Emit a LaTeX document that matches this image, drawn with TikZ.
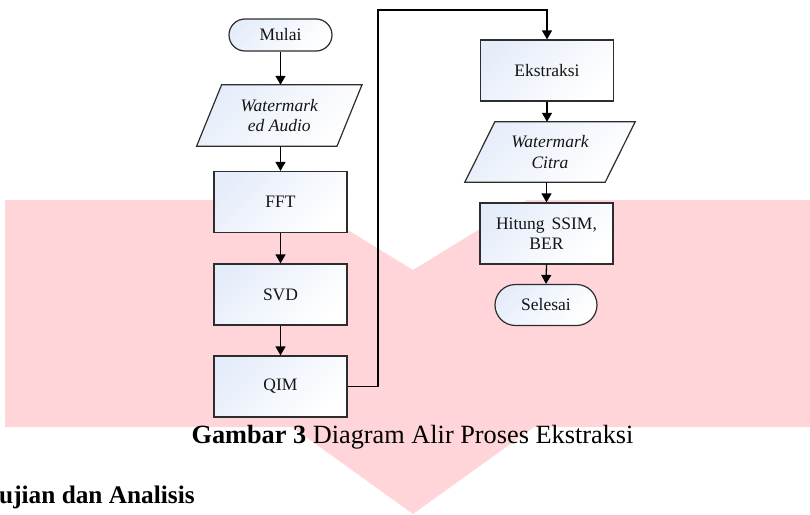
\documentclass[tikz,border=0pt]{standalone}
\usepackage{fontspec}
\setmainfont{Liberation Serif}
\usetikzlibrary{arrows.meta,backgrounds}
\definecolor{wmpink}{RGB}{255,213,217}
\definecolor{boxtl}{RGB}{230,237,250}
\definecolor{edgegray}{RGB}{45,45,45}
\definecolor{txt}{RGB}{20,20,20}
\begin{document}
\begin{tikzpicture}[x=1pt,y=-1pt,
  every node/.style={font=\fontsize{17.5}{20.5}\selectfont, align=center, inner sep=0pt, text=txt},
  procbox/.style={draw=edgegray, line width=1.2pt, top color=boxtl, bottom color=white, shading angle=45, minimum width=133pt, minimum height=61pt},
  termbox/.style={draw=edgegray, line width=1.2pt, top color=boxtl, bottom color=white, shading angle=45},
  iolabel/.style={minimum width=140pt, minimum height=61pt, font=\fontsize{17.5}{20.5}\selectfont\itshape},
  iobox/.style={draw=edgegray, line width=1.2pt, top color=boxtl, bottom color=white, shading angle=45},
  flow/.style={draw=black, line width=1.3pt, -{Triangle[width=10pt,length=9pt]}},
]
\useasboundingbox (0,0) rectangle (810,514);

% watermark shape
\fill[wmpink] (5,200) -- (299,200) -- (413,270) -- (527,200) -- (810,200) -- (810,427)
  -- (534,427) -- (413,514) -- (292,427) -- (5,427) -- cycle;

% left column
\node[termbox, minimum width=103pt, minimum height=32pt, rounded corners=16pt] (mulai) at (280.5,35) {Mulai};
\node[iolabel] (wa) at (279.3,115.5) {Watermark\\ed Audio};
\node[procbox] (fft) at (280.5,202) {FFT};
\node[procbox] (svd) at (280.5,294.5) {SVD};
\node[procbox] (qim) at (280.5,386.5) {QIM};

% right column
\node[procbox] (ek) at (547,70.5) {Ekstraksi};
\node[iolabel, minimum height=60pt] (wc) at (550,152) {Watermark\\Citra};
\node[procbox] (hit) at (546.5,233.5) {Hitung\hspace{7pt}SSIM,\\BER};
\node[termbox, minimum width=102pt, minimum height=41pt, rounded corners=20.5pt] (sel) at (546,305) {Selesai};

\begin{scope}[on background layer]
\path[iobox] ([xshift=12.5pt]wa.north west) -- ([xshift=12.5pt]wa.north east)
  -- ([xshift=-12.5pt]wa.south east) -- ([xshift=-12.5pt]wa.south west) -- cycle;
\path[iobox] ([xshift=15pt]wc.north west) -- ([xshift=15pt]wc.north east)
  -- ([xshift=-15pt]wc.south east) -- ([xshift=-15pt]wc.south west) -- cycle;
\end{scope}

% connectors
\draw[flow] (mulai.south) -- (mulai.south |- wa.north);
\draw[flow] (fft.north |- wa.south) -- (fft.north);
\draw[flow] (fft) -- (svd);
\draw[flow] (svd) -- (qim);
\coordinate (turn) at (378,10);
\draw[flow] (qim.east) -| (turn) -| (ek.north);
\draw[flow] (ek.south) -- (ek.south |- wc.north);
\draw[flow] (hit.north |- wc.south) -- (hit.north);
\draw[flow] (hit.south) -- (sel.north);

% caption and heading
\node[anchor=base, font=\fontsize{26.3}{30}\selectfont, text=black] (cap) at (412.5,443)
  {\textbf{Gambar 3} Diagram Alir Proses Ekstraksi};
\node[anchor=base west, font=\fontsize{25.3}{30}\selectfont\bfseries, text=black] (head) at (-1,503)
  {ujian dan Analisis};
\end{tikzpicture}
\end{document}
